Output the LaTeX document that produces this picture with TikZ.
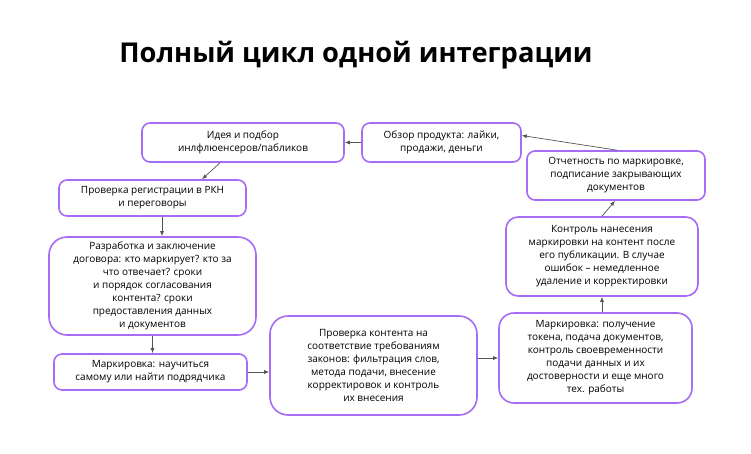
\documentclass[tikz,border=0pt]{standalone}
\usepackage{fontspec}
\setmainfont{Open Sans}
\usetikzlibrary{arrows.meta,calc}
\definecolor{stageline}{HTML}{A66CF5}
\definecolor{flowline}{HTML}{555555}
\tikzset{
  stage/.style={draw=stageline,line width=1.6pt,rounded corners=8pt,fill=white,
    align=center,inner sep=0pt,font=\fontsize{10}{13}\selectfont},
  flow/.style={draw=flowline,line width=0.7pt,-{Latex[length=5pt,width=4pt]}}
}
\begin{document}
\begin{tikzpicture}[x=1pt,y=-1pt]
\useasboundingbox[fill=white] (0,0) rectangle (751,453);
\node[anchor=base,font=\fontsize{27.3}{32}\selectfont\bfseries] (title) at (356,62) {Полный цикл одной интеграции};
% left column
\node[stage,minimum width=202pt,minimum height=39pt] (idea) at (243,142.5) {Идея и подбор\\инлфлюенсеров/пабликов};
\node[stage,minimum width=187pt,minimum height=36pt] (rkn) at (152.5,198) {Проверка регистрации в РКН\\и переговоры};
\node[stage,minimum width=207pt,minimum height=98pt,rounded corners=18pt] (contract) at (152.5,286) {Разработка и заключение\\договора: кто маркирует? кто за\\что отвечает? сроки\\и порядок согласования\\контента? сроки\\предоставления данных\\и документов};
\node[stage,minimum width=193pt,minimum height=36pt] (mark1) at (150.5,372) {Маркировка: научиться\\самому или найти подрядчика};
% bottom row
\node[stage,minimum width=207pt,minimum height=99pt,rounded corners=18pt] (check) at (373.5,365.5) {Проверка контента на\\соответствие требованиям\\законов: фильтрация слов,\\метода подачи, внесение\\корректировок и контроль\\их внесения};
\node[stage,minimum width=193pt,minimum height=90pt,rounded corners=15pt] (mark2) at (595.5,358) {Маркировка: получение\\токена, подача документов,\\контроль своевременности\\подачи данных и их\\достоверности и еще много\\тех. работы};
% right column
\node[stage,minimum width=192pt,minimum height=79pt,rounded corners=12pt] (control) at (602,256.5) {Контроль нанесения\\маркировки на контент после\\его публикации. В случае\\ошибок – немедленное\\удаление и корректировки};
\node[stage,minimum width=178pt,minimum height=49pt] (report) at (616,175.5) {Отчетность по маркировке,\\подписание закрывающих\\документов};
\node[stage,minimum width=159pt,minimum height=39pt] (review) at (441.5,142.5) {Обзор продукта: лайки,\\продажи, деньги};
% connectors
\draw[flow] ([xshift=-23pt]idea.south) -- ([xshift=49.5pt]rkn.north);
\draw[flow] ([xshift=9.5pt]rkn.south) -- ([xshift=9.5pt]contract.north);
\draw[flow] (contract.south) -- (contract.south |- mark1.north);
\draw[flow] (mark1.east) -- (mark1.east -| check.west);
\draw[flow] (mark2.west -| check.east) -- (mark2.west);
\draw[flow] (control.south |- mark2.north) -- (control.south);
\draw[flow] (control.north) -- ([xshift=-1pt]report.south);
\draw[flow] ([xshift=1pt]report.north) -- ([yshift=7pt]review.east);
\draw[flow] (review.west) -- (idea.east);
\end{tikzpicture}
\end{document}
